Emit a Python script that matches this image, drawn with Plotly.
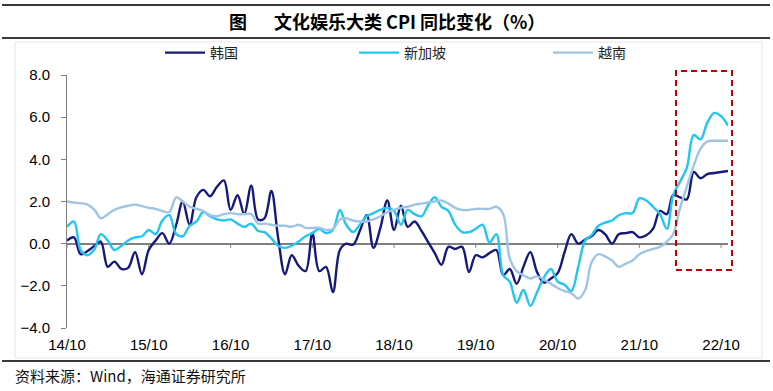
import pandas as pd
import plotly.graph_objects as go

# ---------------- data ----------------
months = pd.date_range("2014-10-01", periods=98, freq="MS")

korea = [
    0.15, 0.3, -0.5, -0.35, -0.1, 0.1, -1.1, -0.85, -1.2, -1.15,
    -0.4, -1.45, -0.3, 0.15, 0.5, 0.0, 0.9, 2.0, 0.9, 2.2,
    2.55, 2.25, 2.7, 3.0, 1.6, 2.3, 1.4, 2.75, 1.15, 1.2,
    2.5, 0.3, -1.45, -0.55, -1.05, -1.3, 0.5, -1.3, -1.1, -2.3,
    -0.3, 0.0, -0.05, 0.6, 1.35, -0.2, 0.75, 2.05, 0.65, 1.8,
    0.8, 1.05, 0.6, 0.1, -0.45, -1.0, -0.15, -0.25, -0.15, -1.35,
    -0.55, -0.65, -0.45, -0.3, -1.5, -1.2, -1.9, -1.1, -0.4, -1.35,
    -1.85, -1.65, -1.4, -0.4, 0.45, 0.0, 0.2, 0.35, 0.65, 0.45,
    0.0, 0.45, 0.5, 0.55, 0.3, 0.4, 0.7, 1.55, 1.4, 2.3,
    2.2, 2.1, 3.4, 3.1, 3.3, 3.35, 3.4, 3.45,
]

singapore = [
    0.8, 1.05, -0.3, -0.55, -0.25, 0.45, 0.15, -0.3, -0.1, 0.15,
    0.3, 0.35, 0.65, 0.45, 1.1, 1.35, 0.45, 0.35, 0.85, 1.05,
    1.5, 1.3, 1.15, 1.1, 1.15, 0.95, 0.8, 0.95, 0.6, 0.55,
    0.25, -0.1, -0.2, -0.1, 0.1, 0.35, 0.5, 0.7, 0.5, 0.65,
    1.6, 0.9, 0.55, 0.9, 1.3, 1.45, 1.6, 1.7, 1.55, 0.9,
    1.6, 1.4, 1.3, 1.8, 2.2, 1.75, 1.55, 0.9, 0.55, 0.55,
    0.7, 0.9, 0.05, 0.45, -1.5, -1.8, -2.8, -2.2, -2.95, -2.3,
    -1.6, -1.2, -1.8, -1.95, -2.25, -1.1, 0.15, 0.4, 0.85, 1.0,
    1.1, 1.35, 1.45, 1.45, 2.15, 2.05, 1.75, 1.4, 0.7, 2.3,
    2.95, 3.6, 5.15, 4.95, 5.75, 6.2, 6.05, 5.6,
]

vietnam = [
    2.0, 1.95, 1.92, 1.85, 1.6, 1.2, 1.4, 1.6, 1.72, 1.8,
    1.85, 1.78, 1.7, 1.65, 1.55, 1.5, 2.2, 2.0, 1.75, 1.65,
    1.55, 1.35, 1.3, 1.4, 1.45, 1.4, 1.4, 1.4, 0.95, 0.95,
    0.9, 0.85, 0.85, 0.8, 0.9, 0.75, 0.75, 0.75, 0.65, 0.7,
    1.15, 1.2, 1.1, 1.05, 1.05, 1.15, 1.3, 1.5, 1.6, 1.7,
    1.75, 1.85, 1.9, 1.95, 2.0, 2.05, 1.9, 1.7, 1.6, 1.6,
    1.65, 1.65, 1.65, 1.75, 1.4, -0.7, -1.3, -1.5, -1.65, -1.55,
    -1.7, -1.9, -2.1, -2.25, -2.35, -2.6, -2.2, -0.9, -0.5, -0.6,
    -0.8, -1.1, -0.95, -0.8, -0.5, -0.35, -0.25, -0.15, 0.1, 0.45,
    1.7, 2.7, 3.7, 4.5, 4.85, 4.88, 4.88, 4.88,
]

series_names = ["韩国", "新加坡", "越南"]
series_colors = ["#16187a", "#22c6f0", "#a0c4e4"]

tick_dates = pd.date_range("2014-10-01", periods=9, freq="12MS")
tick_labels = ["14/10", "15/10", "16/10", "17/10", "18/10",
               "19/10", "20/10", "21/10", "22/10"]
y_ticks = [-4, -2, 0, 2, 4, 6, 8]

title_fig = "图"
title_text = "文化娱乐大类 CPI 同比变化（%）"
source_text = "资料来源：Wind，海通证券研究所"

# ---------------- layout helpers ----------------
W, H = 773, 391
L, R, T, B = 67, 45, 75, 63
PW, PH = W - L - R, H - T - B


def px_x(px):
    return (px - L) / PW


def px_y(py):
    return (H - B - py) / PH


CJK = "Noto Sans CJK SC, sans-serif"
LAT = "Liberation Sans, Arial, sans-serif"

fig = go.Figure()
for name, vals, col in zip(series_names, [korea, singapore, vietnam], series_colors):
    fig.add_trace(go.Scatter(
        x=months, y=vals, name=name, mode="lines",
        line=dict(color=col, width=2.4, shape="spline", smoothing=1.0),
    ))

shapes = []
# small tick marks on the zero line
for d in tick_dates:
    shapes.append(dict(type="line", xref="x", yref="y", x0=d, x1=d, y0=0, y1=-0.2,
                       line=dict(color="#808080", width=1)))
# header / footer rules
for py, wdt in [(5, 2), (38, 2), (361, 2)]:
    shapes.append(dict(type="line", xref="paper", yref="paper",
                       x0=px_x(2), x1=px_x(770), y0=px_y(py), y1=px_y(py),
                       line=dict(color="#3a3a3a", width=wdt)))
# faint chart-area border
shapes.append(dict(type="rect", xref="paper", yref="paper",
                   x0=px_x(15), x1=px_x(762), y0=px_y(358), y1=px_y(42),
                   line=dict(color="#e6e6e6", width=1)))
# red dashed highlight box
shapes.append(dict(type="rect", xref="paper", yref="paper",
                   x0=px_x(676), x1=px_x(732), y0=px_y(270), y1=px_y(71),
                   line=dict(color="#c00000", width=2, dash="6px,4px")))

annotations = [
    dict(text=f"<b>{title_fig}</b>", xref="paper", yref="paper",
         x=px_x(238), y=px_y(21), xanchor="center", yanchor="middle",
         showarrow=False, font=dict(family=CJK, size=18, color="#000")),
    dict(text=f"<b>{title_text}</b>", xref="paper", yref="paper",
         x=px_x(272), y=px_y(21), xanchor="left", yanchor="middle",
         showarrow=False, font=dict(family=CJK, size=18, color="#000")),
    dict(text=source_text, xref="paper", yref="paper",
         x=px_x(13), y=px_y(375), xanchor="left", yanchor="middle",
         showarrow=False, font=dict(family=CJK, size=15, color="#111")),
]

fig.update_layout(
    width=W, height=H,
    margin=dict(l=L, r=R, t=T, b=B, pad=0),
    paper_bgcolor="white", plot_bgcolor="white",
    showlegend=True,
    legend=dict(orientation="h", x=px_x(160), y=px_y(53), xanchor="left", yanchor="middle",
                font=dict(family=CJK, size=14, color="#222"),
                entrywidth=139, entrywidthmode="pixels", itemwidth=40,
                bgcolor="rgba(0,0,0,0)", borderwidth=0),
    xaxis=dict(type="date", range=[months[0], months[-1]],
               tickvals=list(tick_dates), ticktext=tick_labels,
               showgrid=False, zeroline=False, showline=False, ticks="",
               tickfont=dict(family=LAT, size=15, color="#000"),
               ticklabelstandoff=6),
    yaxis=dict(range=[-4, 8], tickvals=y_ticks, tickformat=".1f",
               showgrid=False, zeroline=True, zerolinecolor="#808080", zerolinewidth=1.5,
               showline=True, linecolor="#808080", linewidth=1,
               ticks="outside", ticklen=5, tickcolor="#808080",
               tickfont=dict(family=LAT, size=15, color="#000"),
               ticklabelstandoff=8),
    shapes=shapes,
    annotations=annotations,
)

fig.write_html(
    "out.html",
    config={"displayModeBar": False},
    post_script="document.body.style.margin='0';document.body.style.overflow='hidden';",
)
